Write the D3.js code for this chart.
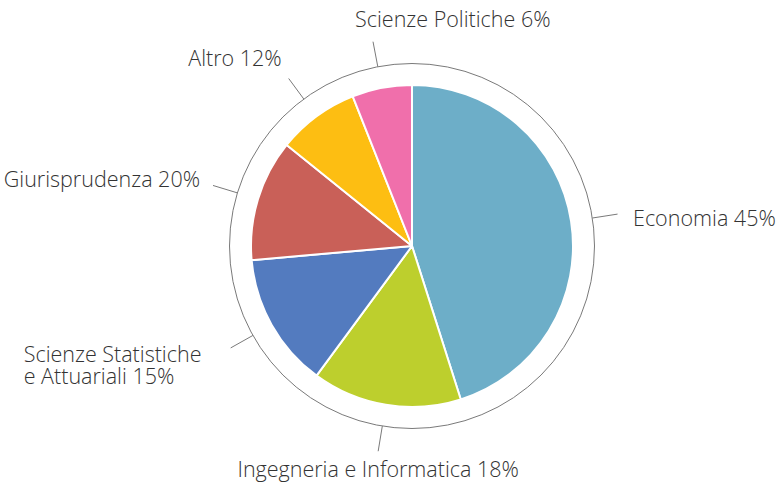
<!DOCTYPE html>
<html>
<head>
<meta charset="utf-8">
<script src="https://cdn.jsdelivr.net/npm/d3@7"></script>
<style>
  body { margin: 0; background: #fff; }
  text { font-family: "Open Sans", sans-serif; font-weight: 300; fill: #333; }
</style>
</head>
<body>
<div id="chart"></div>
<script>
// facoltà di provenienza
const categories = ["Economia", "Ingegneria e Informatica", "Scienze Statistiche e Attuariali", "Giurisprudenza", "Altro", "Scienze Politiche"];
const values = [45.1, 15.0, 13.5, 12.2, 8.2, 6.0];          // slice sizes
const labels = [["Economia 45%"], ["Ingegneria e Informatica 18%"], ["Scienze Statistiche", "e Attuariali 15%"], ["Giurisprudenza 20%"], ["Altro 12%"], ["Scienze Politiche 6%"]];
const colors = ["#6daec8", "#bdcf2d", "#537bbf", "#c96058", "#fdbe12", "#f06fab"];

// label placement relative to the end of each leader line
const labelLayout = [
  {anchor: "start",  dx: 15.5, dy: 11.5},
  {anchor: "middle", dx: 0,    dy: 25.5},
  {anchor: "start",  dx: -207, dy: 14},
  {anchor: "end",    dx: -13,  dy: 2},
  {anchor: "end",    dx: -7,   dy: -12.5},
  {anchor: "start",  dx: -18,  dy: -14.5}
];

const width = 776;
const height = 488;
const cx = 412, cy = 246;
const radius = 161;
const ringRadius = 182.5;
const leaderEnd = 208;

const svg = d3.select("#chart")
  .append("svg")
  .attr("width", width)
  .attr("height", height);

const g = svg.append("g")
  .attr("transform", `translate(${cx},${cy})`);

const pie = d3.pie().sort(null).value(d => d);
const arcs = pie(values);

const arc = d3.arc().innerRadius(0).outerRadius(radius);

g.selectAll("path.slice")
  .data(arcs)
  .join("path")
  .attr("class", "slice")
  .attr("d", arc)
  .attr("fill", (d, i) => colors[i])
  .attr("stroke", "#fff")
  .attr("stroke-width", 2)
  .attr("stroke-linejoin", "round");

g.append("circle")
  .attr("r", ringRadius)
  .attr("fill", "none")
  .attr("stroke", "#7a7a7a")
  .attr("stroke-width", 1);

const mid = d => (d.startAngle + d.endAngle) / 2;
const polar = (a, r) => [Math.sin(a) * r, -Math.cos(a) * r];

g.selectAll("line.leader")
  .data(arcs)
  .join("line")
  .attr("class", "leader")
  .attr("x1", d => polar(mid(d), ringRadius)[0])
  .attr("y1", d => polar(mid(d), ringRadius)[1])
  .attr("x2", d => polar(mid(d), leaderEnd)[0])
  .attr("y2", d => polar(mid(d), leaderEnd)[1])
  .attr("stroke", "#7a7a7a")
  .attr("stroke-width", 1);

const lbl = g.selectAll("text.label")
  .data(arcs)
  .join("text")
  .attr("class", "label")
  .attr("font-size", 21.5)
  .attr("text-anchor", (d, i) => labelLayout[i].anchor)
  .attr("x", (d, i) => polar(mid(d), leaderEnd)[0] + labelLayout[i].dx)
  .attr("y", (d, i) => polar(mid(d), leaderEnd)[1] + labelLayout[i].dy);

lbl.selectAll("tspan")
  .data((d, i) => labels[i].map(t => ({t, i, d})))
  .join("tspan")
  .attr("x", o => polar(mid(o.d), leaderEnd)[0] + labelLayout[o.i].dx)
  .attr("dy", (o, j) => j === 0 ? 0 : 22.5)
  .text(o => o.t);
</script>
</body>
</html>
